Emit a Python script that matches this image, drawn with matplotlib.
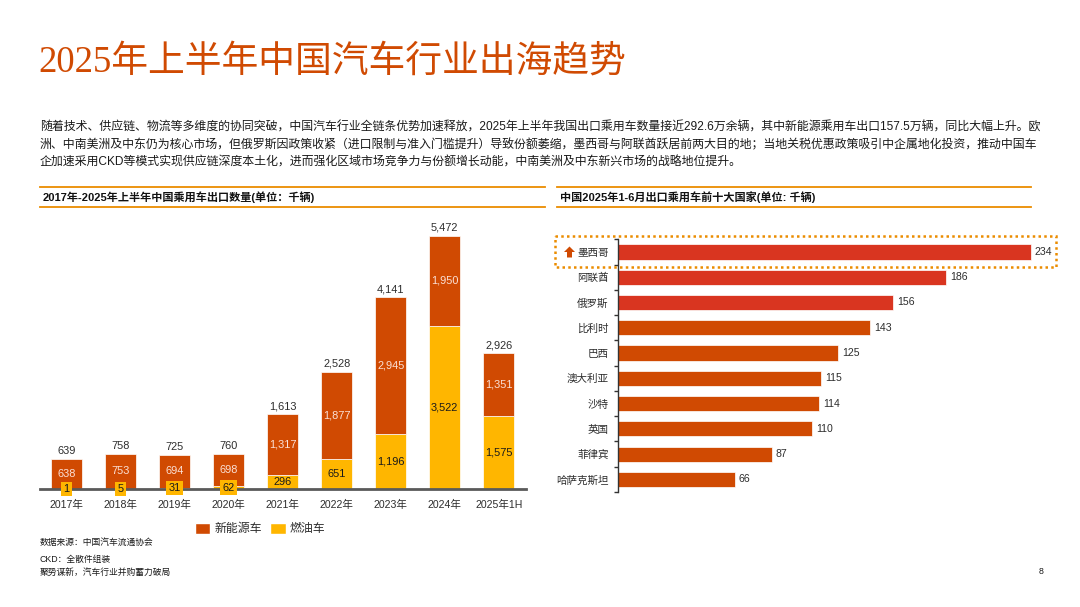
import matplotlib
matplotlib.use('Agg')
import numpy as np
import matplotlib.pyplot as plt
from matplotlib.patches import Rectangle, Polygon
from matplotlib.lines import Line2D
import matplotlib.transforms as mtransforms

plt.rcParams['font.family'] = ['Liberation Sans', 'Noto Sans CJK SC', 'DejaVu Sans']

ORANGE = '#D04A02'
YELLOW = '#FFB600'
RED = '#D93520'
GOLD = '#EB8C00'
TXT = '#2D2D2D'

# ---------------- data ----------------
years = ['2017年', '2018年', '2019年', '2020年', '2021年', '2022年', '2023年', '2024年', '2025年1H']
nev = [638, 753, 694, 698, 1317, 1877, 2945, 1950, 1351]      # 新能源车
ice = [1, 5, 31, 62, 296, 651, 1196, 3522, 1575]              # 燃油车
series_names = ['新能源车', '燃油车']

countries = ['墨西哥', '阿联酋', '俄罗斯', '比利时', '巴西', '澳大利亚', '沙特', '英国', '菲律宾', '哈萨克斯坦']
country_vals = [234, 186, 156, 143, 125, 115, 114, 110, 87, 66]
top_group = 3  # first three bars drawn in red

title = '2025年上半年中国汽车行业出海趋势'
para = [
    '随着技术、供应链、物流等多维度的协同突破，中国汽车行业全链条优势加速释放，2025年上半年我国出口乘用车数量接近292.6万余辆，其中新能源乘用车出口157.5万辆，同比大幅上升。欧',
    '洲、中南美洲及中东仍为核心市场，但俄罗斯因政策收紧（进口限制与准入门槛提升）导致份额萎缩，墨西哥与阿联酋跃居前两大目的地；当地关税优惠政策吸引中企属地化投资，推动中国车',
    '企加速采用CKD等模式实现供应链深度本土化，进而强化区域市场竞争力与份额增长动能，中南美洲及中东新兴市场的战略地位提升。',
]
left_header = '2017年-2025年上半年中国乘用车出口数量(单位：千辆)'
right_header = '中国2025年1-6月出口乘用车前十大国家(单位: 千辆)'
footer = ['数据来源：中国汽车流通协会', 'CKD：全散件组装', '聚势谋新，汽车行业并购蓄力破局']
page_no = '8'

# ---------------- figure ----------------
W, H = 1080, 607
fig = plt.figure(figsize=(W / 100, H / 100), dpi=100)


def fx(px):
    return px / W


def fy(py):
    return 1 - py / H


fig.text(fx(38), fy(62), title, color=ORANGE, fontsize=26.5, va='center', ha='left',
         family=['Liberation Serif', 'Noto Sans CJK SC'])

for i, line in enumerate(para):
    fig.text(fx(40), fy(128 + 17.5 * i), line, fontsize=8.6, va='center', ha='left', color='#1a1a1a')

# section headers
for (x0, x1, txt) in [(40, 545, left_header), (557, 1031, right_header)]:
    for yy in (187, 207):
        fig.add_artist(Line2D([fx(x0), fx(x1)], [fy(yy), fy(yy)], color=GOLD, lw=1.3))
    fig.text(fx(x0 + 3), fy(197.5), txt, fontsize=8, fontweight='bold', va='center', ha='left', color='#111111')

# ---------------- left stacked bar chart ----------------
ax = fig.add_axes([fx(39.7), fy(489), 486 / W, 264 / H])
x = np.arange(len(years))
bw = 0.575
b_ice = ax.bar(x, ice, width=bw, color=YELLOW, edgecolor='white', linewidth=0.5, zorder=2)
b_nev = ax.bar(x, nev, width=bw, bottom=ice, color=ORANGE, edgecolor='white', linewidth=0.5, zorder=2)
ax.set_xlim(-0.5, len(years) - 0.5)
ax.set_ylim(0, 5700)
for s in ('top', 'right', 'left'):
    ax.spines[s].set_visible(False)
ax.spines['bottom'].set_color('#5A5A5A')
ax.spines['bottom'].set_linewidth(2)
ax.spines['bottom'].set_zorder(3)
ax.set_yticks([])
ax.set_xticks(x, years)
ax.tick_params(axis='x', length=0, pad=8, labelsize=7.6, labelcolor=TXT)

totals = [a + b for a, b in zip(nev, ice)]
for i in x:
    # total above
    ax.text(i, totals[i], f'{totals[i]:,}', ha='center', va='bottom', fontsize=7.9, color=TXT,
            transform=ax.transData + mtransforms.ScaledTranslation(0, 3 / 100, fig.dpi_scale_trans))
    # nev segment label
    ax.text(i, ice[i] + nev[i] / 2, f'{nev[i]:,}', ha='center', va='center', fontsize=7.9, color='#FBE0D6')
    # ice segment label
    if ice[i] < 100:
        ax.text(i, ice[i] / 2, f'{ice[i]:,}', ha='center', va='center', fontsize=7.9, color='#1a1a1a',
                zorder=5, bbox=dict(boxstyle='square,pad=0.2', fc=YELLOW, ec='none'))
    else:
        ax.text(i, ice[i] / 2, f'{ice[i]:,}', ha='center', va='center', fontsize=7.9, color='#1a1a1a', zorder=5)

handles = [Rectangle((0, 0), 1, 1, fc=ORANGE, ec='white'), Rectangle((0, 0), 1, 1, fc=YELLOW, ec='white')]
fig.legend(handles, series_names, loc='center', bbox_to_anchor=(fx(260), fy(529)), ncol=2, frameon=False,
           fontsize=8.6, handlelength=1.3, handleheight=1.1, handletextpad=0.35, columnspacing=0.7,
           labelcolor=TXT)

# footer
fig.text(fx(40), fy(542), footer[0], fontsize=6.3, va='center', ha='left', color='#1a1a1a')
fig.text(fx(40), fy(559), footer[1], fontsize=6.3, va='center', ha='left', color='#1a1a1a')
fig.text(fx(40), fy(572), footer[2], fontsize=6.3, va='center', ha='left', color='#1a1a1a')
fig.text(fx(1041), fy(572), page_no, fontsize=6.3, va='center', ha='center', color='#1a1a1a')

# ---------------- right horizontal bar chart ----------------
ax2 = fig.add_axes([fx(618.3), fy(492), 458 / W, 252.7 / H])
y = np.arange(len(countries))
colors = [RED if i < top_group else ORANGE for i in y]
bars = ax2.barh(y, country_vals, height=0.6, color=colors, edgecolor='white', linewidth=0.5)
ax2.set_ylim(len(countries) - 0.5, -0.5)
ax2.set_xlim(0, 260)
for s in ('top', 'right', 'bottom'):
    ax2.spines[s].set_visible(False)
ax2.spines['left'].set_color('#333333')
ax2.spines['left'].set_linewidth(1)
ax2.set_xticks([])
ax2.set_yticks(y, countries)
ax2.set_yticks(np.arange(-0.5, len(countries)), minor=True)
ax2.tick_params(axis='y', which='major', length=0, pad=7, labelsize=7.6, labelcolor=TXT)
ax2.tick_params(axis='y', which='minor', length=3, width=1, color='#333333', direction='out')
ax2.bar_label(bars, labels=[str(v) for v in country_vals], padding=3, fontsize=7.6, color=TXT)

# highlight box around first row
trans = mtransforms.blended_transform_factory(fig.transFigure, ax2.transData)
rect = Rectangle((fx(555), -0.643), fx(1056) - fx(555), 1.228, transform=trans, fill=False,
                 ec=GOLD, lw=1.8, linestyle=(0, (1, 1.3)), clip_on=False)
fig.add_artist(rect)

# up arrow marker
arrow_px = [(564, 252), (569.5, 246.5), (575, 252), (572, 252), (572, 257.5), (567, 257.5), (567, 252)]
fig.add_artist(Polygon([(fx(a), fy(b)) for a, b in arrow_px], closed=True, fc=ORANGE, ec='none',
                       transform=fig.transFigure))

fig.savefig('out.png', dpi=100)
